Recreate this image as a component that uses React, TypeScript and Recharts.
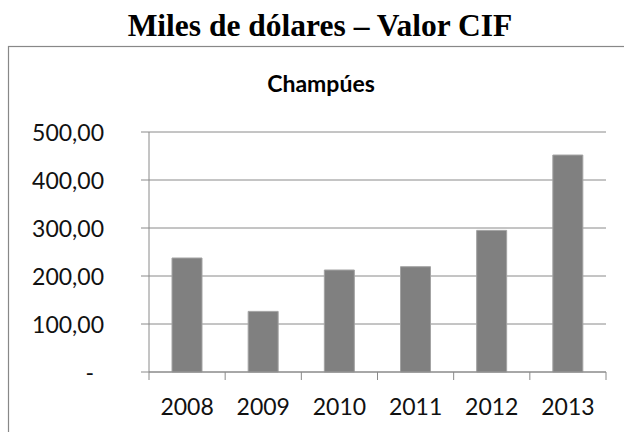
import React from "react";
import { BarChart, Bar, XAxis, YAxis, CartesianGrid } from "recharts";

const years = ["2008", "2009", "2010", "2011", "2012", "2013"];
const values = [237.5, 126.3, 212.5, 219.4, 295, 452];
const yTicks = [0, 100, 200, 300, 400, 500];

const data = years.map((year, i) => ({ year, value: values[i] }));

const W = 624;
const H = 432;
const MARGIN = { top: 132, right: 18, left: 0, bottom: 0 };
const Y_AXIS_W = 149;
const X_AXIS_H = 60;
const PLOT_W = W - MARGIN.left - MARGIN.right - Y_AXIS_W;
const HALF_BAND = PLOT_W / years.length / 2;
const GRID = "#8a8a8a";
const FONT = "Lato, 'Open Sans', sans-serif";

const fmt = (v: number) => (v === 0 ? "-" : v.toFixed(2).replace(".", ","));

const YTick = (props: any) => {
  const { x, y, payload } = props;
  const v = payload.value as number;
  return (
    <text
      x={v === 0 ? x - 10 : x}
      y={y}
      textAnchor="end"
      dominantBaseline="central"
      fontFamily={FONT}
      fontSize={23}
      fill="#111"
    >
      {fmt(v)}
    </text>
  );
};

const XTick = (props: any) => {
  const { x, y, payload, index } = props;
  const axisY = y - 8;
  const last = index === years.length - 1;
  return (
    <g>
      <line x1={x - HALF_BAND} x2={x - HALF_BAND} y1={axisY} y2={axisY + 8} stroke={GRID} strokeWidth={1} />
      {last && (
        <line x1={x + HALF_BAND} x2={x + HALF_BAND} y1={axisY} y2={axisY + 8} stroke={GRID} strokeWidth={1} />
      )}
      <text x={x} y={y + 35} textAnchor="middle" fontFamily={FONT} fontSize={23} fill="#111">
        {payload.value}
      </text>
    </g>
  );
};

export default function App() {
  return (
    <div style={{ position: "absolute", left: 0, top: 0, width: W, height: H, background: "#fff", overflow: "hidden" }}>
      <svg width={W} height={H} style={{ position: "absolute", left: 0, top: 0 }}>
        <rect x={8.5} y={46.5} width={700} height={500} fill="none" stroke="#888" strokeWidth={1.2} />
        <text
          x={320}
          y={36}
          textAnchor="middle"
          fontFamily="'Liberation Serif', 'Times New Roman', serif"
          fontWeight="bold"
          fontSize={31.5}
          fill="#000"
        >
          Miles de dólares – Valor CIF
        </text>
        <text x={321} y={92} textAnchor="middle" fontFamily={FONT} fontWeight="bold" fontSize={23} fill="#000">
          Champúes
        </text>
      </svg>
      <div style={{ position: "absolute", left: 0, top: 0 }}>
        <BarChart width={W} height={H} data={data} margin={MARGIN}>
          <CartesianGrid vertical={false} stroke={GRID} strokeWidth={1} />
          <XAxis
            dataKey="year"
            height={X_AXIS_H}
            tickLine={false}
            tickSize={8}
            tickMargin={0}
            axisLine={{ stroke: GRID, strokeWidth: 1 }}
            tick={<XTick />}
            interval={0}
          />
          <YAxis
            width={Y_AXIS_W}
            domain={[0, 500]}
            ticks={yTicks}
            interval={0}
            tickSize={8}
            tickMargin={37}
            tickLine={{ stroke: GRID, strokeWidth: 1 }}
            axisLine={{ stroke: GRID, strokeWidth: 1 }}
            tick={<YTick />}
          />
          <Bar dataKey="value" fill="#808080" stroke="#a3a3a3" strokeWidth={1} barSize={30} isAnimationActive={false} />
        </BarChart>
      </div>
    </div>
  );
}
